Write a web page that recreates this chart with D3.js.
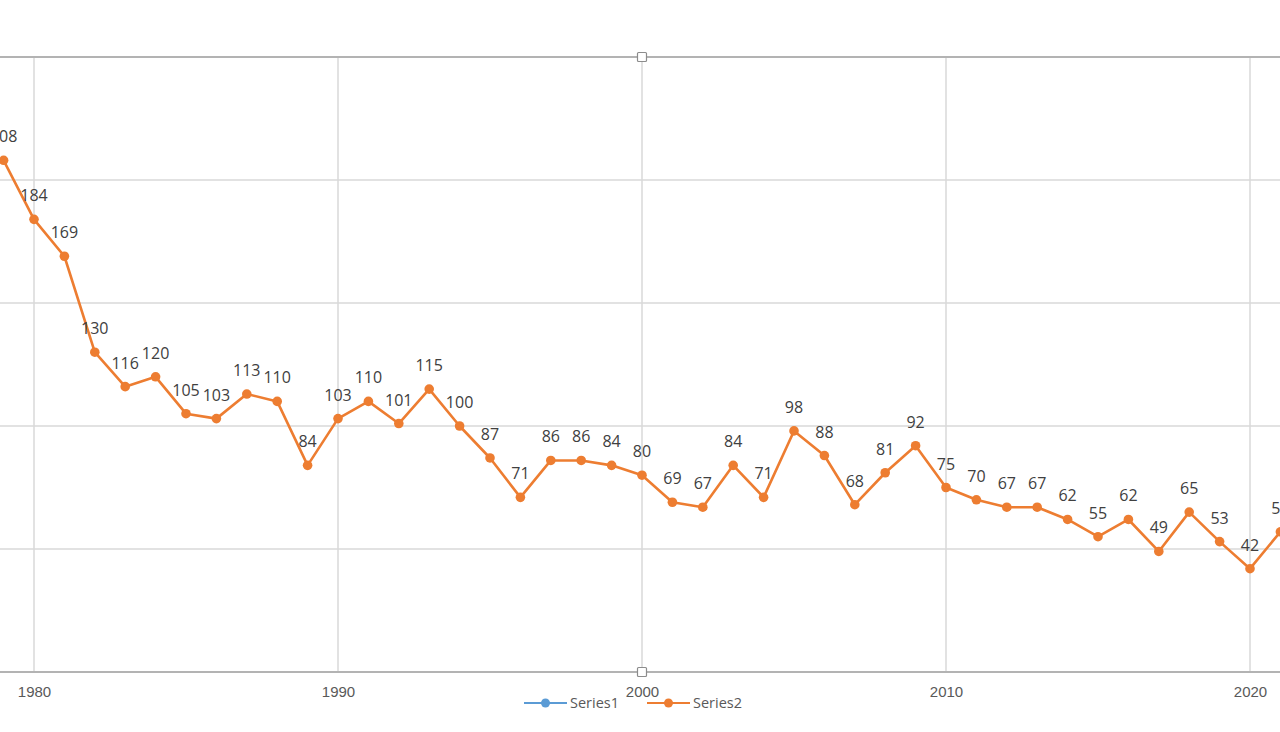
<!DOCTYPE html>
<html>
<head>
<meta charset="utf-8">
<script src="https://cdn.jsdelivr.net/npm/d3@7"></script>
<style>
  html, body { margin: 0; padding: 0; background: #fff; overflow: hidden; }
  svg { display: block; }
</style>
</head>
<body>
<div id="chart"></div>
<script>
// data
const years = [1979, 1980, 1981, 1982, 1983, 1984, 1985, 1986, 1987, 1988, 1989,
  1990, 1991, 1992, 1993, 1994, 1995, 1996, 1997, 1998, 1999,
  2000, 2001, 2002, 2003, 2004, 2005, 2006, 2007, 2008, 2009,
  2010, 2011, 2012, 2013, 2014, 2015, 2016, 2017, 2018, 2019,
  2020, 2021]
const series2 = [208, 184, 169, 130, 116, 120, 105, 103, 113, 110, 84,
  103, 110, 101, 115, 100, 87, 71, 86, 86, 84,
  80, 69, 67, 84, 71, 98, 88, 68, 81, 92,
  75, 70, 67, 67, 62, 55, 62, 49, 65, 53,
  42, 57]
const xTicks = [1980, 1990, 2000, 2010, 2020]
const yTicks = [0, 50, 100, 150, 200, 250]
const legendItems = [
  {name: 'Series1', color: '#5B9BD5'},
  {name: 'Series2', color: '#ED7D31'}
]

const width = 1280
const height = 732

const x = d3.scaleLinear().domain([1980, 2020]).range([34, 1250])
const y = d3.scaleLinear().domain([0, 250]).range([672, 57])

const svg = d3.create('svg')
  .attr('width', width)
  .attr('height', height)
  .attr('font-family', '"Open Sans", "Liberation Sans", sans-serif')

document.getElementById('chart').appendChild(svg.node())

// gridlines
svg.append('g')
  .selectAll('line')
  .data(yTicks.filter(d => d > 0 && d < 250))
  .join('line')
    .attr('x1', 0).attr('x2', width)
    .attr('y1', d => y(d)).attr('y2', d => y(d))
    .attr('stroke', '#d9d9d9')
    .attr('stroke-width', 1.5)

svg.append('g')
  .selectAll('line')
  .data(xTicks)
  .join('line')
    .attr('x1', d => x(d)).attr('x2', d => x(d))
    .attr('y1', y(250)).attr('y2', y(0))
    .attr('stroke', '#d9d9d9')
    .attr('stroke-width', 1.5)

// top frame + axis line
svg.append('line')
  .attr('x1', 0).attr('x2', width)
  .attr('y1', y(250)).attr('y2', y(250))
  .attr('stroke', '#b3b3b3')
  .attr('stroke-width', 2)

const xAxis = svg.append('g')
  .attr('transform', `translate(0,${y(0)})`)
  .call(d3.axisBottom(x).tickValues(xTicks).tickFormat(d3.format('d')).tickSize(0).tickPadding(14))
xAxis.select('.domain').remove()
xAxis.append('line')
  .attr('x1', 0).attr('x2', width)
  .attr('stroke', '#b3b3b3')
  .attr('stroke-width', 2)
xAxis.selectAll('text')
  .attr('fill', '#595959')
  .attr('font-size', 15)

// line
const line = d3.line()
  .x((d, i) => x(years[i]))
  .y(d => y(d))

svg.append('path')
  .datum(series2)
  .attr('fill', 'none')
  .attr('stroke', '#ED7D31')
  .attr('stroke-width', 2.6)
  .attr('stroke-linejoin', 'round')
  .attr('d', line)

svg.append('g')
  .selectAll('circle')
  .data(series2)
  .join('circle')
    .attr('cx', (d, i) => x(years[i]))
    .attr('cy', d => y(d))
    .attr('r', 4.8)
    .attr('fill', '#ED7D31')

// data labels
svg.append('g')
  .attr('text-anchor', 'middle')
  .attr('font-size', 16)
  .attr('fill', '#404040')
  .selectAll('text')
  .data(series2)
  .join('text')
    .attr('x', (d, i) => x(years[i]))
    .attr('y', d => y(d) - 18)
    .text(d => d)

// selection handles
svg.append('g')
  .selectAll('rect')
  .data([250, 0])
  .join('rect')
    .attr('x', 637.5).attr('y', d => y(d) - 4.5)
    .attr('width', 9).attr('height', 9)
    .attr('rx', 1)
    .attr('fill', '#fff')
    .attr('stroke', '#8c8c8c')
    .attr('stroke-width', 1.2)

// legend
const legend = svg.append('g')
  .attr('font-size', 14.5)
  .selectAll('g')
  .data(legendItems)
  .join('g')
    .attr('transform', (d, i) => `translate(${524 + i * 123},703)`)

legend.append('line')
  .attr('x1', 0).attr('x2', 43)
  .attr('stroke', d => d.color)
  .attr('stroke-width', 2)
legend.append('circle')
  .attr('cx', 21.5)
  .attr('r', 4.5)
  .attr('fill', d => d.color)
legend.append('text')
  .attr('x', 46)
  .attr('dy', '0.35em')
  .attr('fill', '#595959')
  .text(d => d.name)
</script>
</body>
</html>
